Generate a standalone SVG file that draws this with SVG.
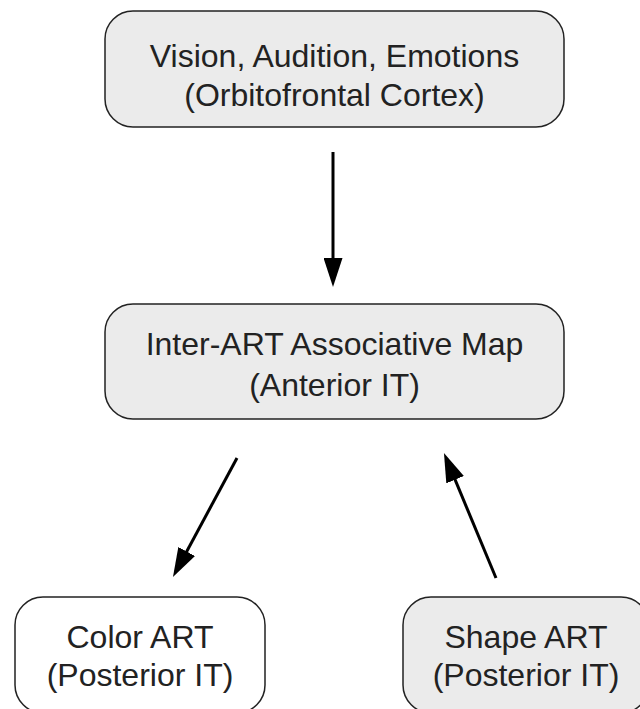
<svg xmlns="http://www.w3.org/2000/svg" width="640" height="709" viewBox="0 0 640 709">
  <style>
    .box { stroke: #222; stroke-width: 1.5; }
    .gray { fill: #ebebeb; }
    .white { fill: #ffffff; }
    .label { font-family: "Liberation Sans", Arial, sans-serif; font-size: 32px; fill: #222; text-anchor: middle; }
    .conn { stroke: #000; stroke-width: 3; fill: none; }
  </style>
  <defs>
    <marker id="arrow" markerUnits="userSpaceOnUse" viewBox="0 0 29 19" markerWidth="29" markerHeight="19" refX="19" refY="9.5" orient="auto">
      <path d="M0,0 L29,9.5 L0,19 Z" fill="#000"/>
    </marker>
  </defs>
  <rect width="640" height="709" fill="#ffffff"/>
  <g id="node-orbitofrontal">
    <rect class="box gray" x="105" y="11" width="459" height="116" rx="28" ry="28"/>
    <text class="label" x="334.5" y="67">Vision, Audition, Emotions</text>
    <text class="label" x="334.5" y="106">(Orbitofrontal Cortex)</text>
  </g>
  <g id="node-inter-art">
    <rect class="box gray" x="105" y="304" width="459" height="115" rx="28" ry="28"/>
    <text class="label" x="334.5" y="355">Inter-ART Associative Map</text>
    <text class="label" x="334.5" y="396">(Anterior IT)</text>
  </g>
  <g id="node-color-art">
    <rect class="box white" x="15" y="597" width="250" height="116" rx="28" ry="28"/>
    <text class="label" x="140" y="648">Color ART</text>
    <text class="label" x="140" y="686">(Posterior IT)</text>
  </g>
  <g id="node-shape-art">
    <rect class="box gray" x="403" y="597" width="246" height="116" rx="28" ry="28"/>
    <text class="label" x="526" y="648">Shape ART</text>
    <text class="label" x="526" y="686">(Posterior IT)</text>
  </g>
  <g id="connectors">
    <line class="conn" x1="333" y1="152" x2="333" y2="277" marker-end="url(#arrow)"/>
    <line class="conn" x1="237" y1="458" x2="177.7" y2="568.2" marker-end="url(#arrow)"/>
    <line class="conn" x1="496" y1="578" x2="447.8" y2="462.2" marker-end="url(#arrow)"/>
  </g>
</svg>
